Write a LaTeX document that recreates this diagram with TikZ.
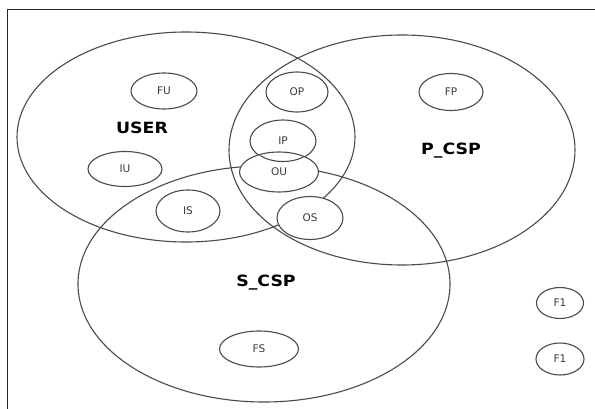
\documentclass[tikz,border=0pt]{standalone}
\usepackage{fontspec}
\setmainfont{DejaVu Sans}
\usetikzlibrary{shapes.geometric}
\definecolor{lineg}{HTML}{4A4A4A}
\definecolor{textg}{HTML}{3A3A3A}
\tikzset{
  bigell/.style={ellipse, draw=lineg, line width=1.1pt, inner sep=0pt},
  smallell/.style={ellipse, draw=lineg, line width=1.1pt, fill=white, inner sep=0pt,
    font=\fontsize{10.5}{11}\selectfont, text=textg},
  biglab/.style={font=\bfseries\fontsize{15.5}{16}\selectfont, text=black, xscale=1.12},
  frameline/.style={draw=black!85, line width=1pt}
}
\begin{document}
\begin{tikzpicture}[x=1pt,y=-1pt]
\useasboundingbox (0,0) rectangle (595,409);
% frame
\coordinate (fbl) at (7,409);
\coordinate (ftl) at (7,10);
\coordinate (ftr) at (595,10);
\draw[frameline] (fbl) -- (ftl) -- (ftr);
% big sets
\node[bigell, minimum width=338pt, minimum height=210pt] (user) at (186,137) {};
\node[bigell, minimum width=346pt, minimum height=230pt] (pcsp) at (402,150) {};
\node[bigell, minimum width=372pt, minimum height=236pt] (scsp) at (264,284) {};
% set labels
\node[biglab] (userlab) at (142,128) {USER};
\node[biglab] (pcsplab) at (451,151) {P\_CSP};
\node[biglab] (scsplab) at (266,283) {S\_CSP};
% small elements
\node[smallell, minimum width=66pt, minimum height=36pt] (FU) at (164,91) {FU};
\node[smallell, minimum width=74pt, minimum height=35pt] (IU) at (125,169) {IU};
\node[smallell, minimum width=62pt, minimum height=40pt] (OP) at (297,92) {OP};
\node[smallell, minimum width=66pt, minimum height=42pt] (IP) at (283,141) {IP};
\node[smallell, minimum width=79pt, minimum height=40pt] (OU) at (279,172) {OU};
\begin{scope}
  \clip (OU.center) ellipse [x radius=39pt, y radius=19pt];
  \draw[lineg, line width=1.1pt] (IP.center) ellipse [x radius=32.5pt, y radius=20.5pt];
\end{scope}
\node[smallell, minimum width=66pt, minimum height=43pt] (OS) at (310,218) {OS};
\node[smallell, minimum width=64pt, minimum height=42pt] (IS) at (188,211) {IS};
\node[smallell, minimum width=79pt, minimum height=36pt] (FS) at (259,349) {FS};
\node[smallell, minimum width=64pt, minimum height=37pt] (FP) at (451,92) {FP};
\node[smallell, minimum width=47pt, minimum height=31pt] (F1a) at (560,303) {F1};
\node[smallell, minimum width=48pt, minimum height=32pt] (F1b) at (560,359) {F1};
\end{tikzpicture}
\end{document}
